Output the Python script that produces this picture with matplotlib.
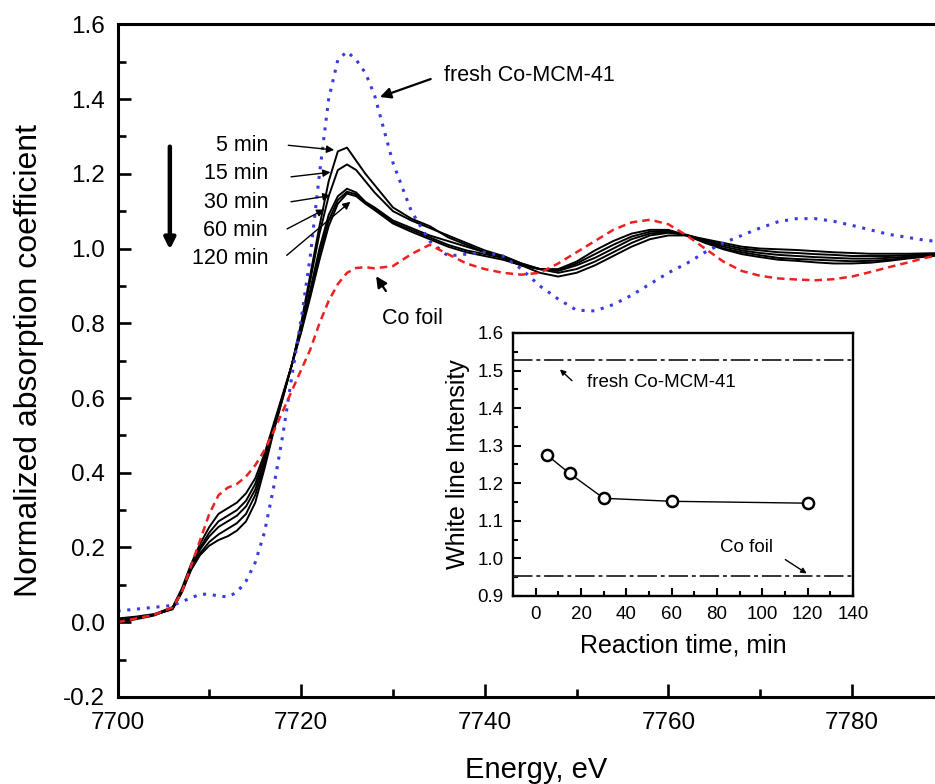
import numpy as np
import matplotlib
matplotlib.use("Agg")
import matplotlib.pyplot as plt
from matplotlib.ticker import MultipleLocator

plt.rcParams['font.family'] = ['Liberation Sans', 'DejaVu Sans']

# energy grid (eV) shared by all spectra
energy = [7700, 7702, 7704, 7706, 7707, 7708, 7709, 7710, 7711, 7712, 7713, 7714,
          7715, 7716, 7717, 7718, 7719, 7720, 7721, 7722, 7723, 7724, 7725, 7726,
          7727, 7728, 7730, 7732, 7734, 7736, 7738, 7740, 7742, 7744, 7746, 7748,
          7750, 7752, 7754, 7756, 7758, 7760, 7762, 7764, 7766, 7768, 7770, 7772,
          7774, 7776, 7778, 7780, 7782, 7784, 7786, 7788, 7790]

fresh = [0.03, 0.035, 0.04, 0.045, 0.055, 0.065, 0.075, 0.075, 0.07, 0.068, 0.08, 0.11,
         0.16, 0.24, 0.36, 0.50, 0.66, 0.81, 0.98, 1.20, 1.40, 1.505, 1.527, 1.505,
         1.47, 1.41, 1.23, 1.10, 1.02, 0.98, 0.985, 0.99, 0.98, 0.945, 0.90, 0.865,
         0.835, 0.833, 0.85, 0.875, 0.905, 0.935, 0.96, 0.99, 1.015, 1.035, 1.055, 1.072,
         1.08, 1.08, 1.073, 1.062, 1.05, 1.038, 1.03, 1.022, 1.018]

co_foil = [0.0, 0.01, 0.02, 0.04, 0.08, 0.15, 0.22, 0.29, 0.34, 0.36, 0.37, 0.39,
           0.42, 0.46, 0.51, 0.565, 0.62, 0.675, 0.73, 0.80, 0.86, 0.905, 0.935, 0.948,
           0.95, 0.947, 0.953, 0.985, 1.01, 0.985, 0.96, 0.945, 0.935, 0.93, 0.935, 0.96,
           0.99, 1.02, 1.05, 1.07, 1.077, 1.065, 1.035, 1.0, 0.965, 0.94, 0.927, 0.92,
           0.917, 0.915, 0.918, 0.925, 0.937, 0.95, 0.962, 0.975, 0.985]

t5 = [0.0, 0.01, 0.02, 0.035, 0.08, 0.14, 0.18, 0.205, 0.22, 0.23, 0.245, 0.27,
      0.32, 0.41, 0.51, 0.60, 0.69, 0.80, 0.93, 1.06, 1.18, 1.26, 1.27, 1.235,
      1.20, 1.17, 1.11, 1.08, 1.06, 1.03, 1.01, 0.99, 0.975, 0.955, 0.935, 0.925,
      0.935, 0.955, 0.98, 1.005, 1.025, 1.035, 1.035, 1.025, 1.015, 1.005, 1.0, 0.998,
      0.996, 0.993, 0.99, 0.988, 0.986, 0.986, 0.986, 0.987, 0.988]
t15 = [0.005, 0.012, 0.02, 0.035, 0.08, 0.14, 0.185, 0.215, 0.235, 0.25, 0.265, 0.29,
       0.34, 0.42, 0.515, 0.60, 0.69, 0.795, 0.915, 1.04, 1.14, 1.21, 1.225, 1.21,
       1.18, 1.15, 1.10, 1.075, 1.055, 1.035, 1.015, 0.995, 0.98, 0.96, 0.945, 0.935,
       0.945, 0.965, 0.99, 1.015, 1.035, 1.042, 1.037, 1.022, 1.01, 1.0, 0.995, 0.99,
       0.988, 0.985, 0.983, 0.98, 0.98, 0.98, 0.982, 0.984, 0.986]
t30 = [0.01, 0.015, 0.022, 0.04, 0.085, 0.145, 0.195, 0.23, 0.255, 0.27, 0.285, 0.31,
       0.355, 0.43, 0.52, 0.605, 0.69, 0.785, 0.89, 1.0, 1.09, 1.14, 1.16, 1.15,
       1.125, 1.11, 1.075, 1.055, 1.035, 1.02, 1.005, 0.99, 0.98, 0.96, 0.945, 0.94,
       0.955, 0.975, 1.0, 1.025, 1.04, 1.045, 1.035, 1.02, 1.005, 0.995, 0.988, 0.983,
       0.98, 0.977, 0.975, 0.973, 0.973, 0.975, 0.978, 0.982, 0.985]
t60 = [0.0, 0.008, 0.018, 0.038, 0.085, 0.15, 0.20, 0.24, 0.27, 0.285, 0.30, 0.325,
       0.37, 0.44, 0.525, 0.605, 0.69, 0.78, 0.88, 0.985, 1.075, 1.13, 1.152, 1.145,
       1.122, 1.107, 1.07, 1.05, 1.03, 1.01, 0.995, 0.985, 0.975, 0.955, 0.945, 0.942,
       0.96, 0.985, 1.01, 1.032, 1.045, 1.048, 1.035, 1.017, 1.0, 0.99, 0.982, 0.975,
       0.972, 0.97, 0.968, 0.966, 0.967, 0.97, 0.975, 0.98, 0.984]
t120 = [0.005, 0.012, 0.02, 0.04, 0.09, 0.155, 0.21, 0.255, 0.29, 0.305, 0.32, 0.345,
        0.385, 0.45, 0.53, 0.61, 0.69, 0.775, 0.87, 0.97, 1.06, 1.12, 1.147, 1.14,
        1.12, 1.103, 1.067, 1.045, 1.025, 1.005, 0.99, 0.98, 0.97, 0.955, 0.945, 0.945,
        0.965, 0.995, 1.02, 1.04, 1.05, 1.05, 1.035, 1.015, 0.998, 0.985, 0.977, 0.97,
        0.967, 0.963, 0.96, 0.96, 0.962, 0.967, 0.973, 0.978, 0.983]

time_labels = ['5 min', '15 min', '30 min', '60 min', '120 min']
xticks_main = [7700, 7720, 7740, 7760, 7780]

# inset: white line intensity vs reaction time
react_time = [5, 15, 30, 60, 120]
white_line = [1.275, 1.226, 1.160, 1.152, 1.147]
wl_fresh = 1.527
wl_foil = 0.952

fig = plt.figure(figsize=(9.35, 7.84), dpi=100)
# the original figure is cropped on the right, so the axes run past the edge
ax = fig.add_axes([0.1257, 0.1110, 0.9818, 0.858])

for s in [t5, t15, t30, t60, t120]:
    ax.plot(energy, s, color='black', lw=1.4)
ax.plot(energy, fresh, color='#3a3ae0', ls=(0, (1, 2.2)), lw=2.2)
ax.plot(energy, co_foil, color='#ee2020', ls=(0, (3, 2)), lw=1.8)

ax.set_xlim(7700, 7800)
ax.set_ylim(-0.2, 1.6)
ax.set_xticks(xticks_main)
ax.set_xticks(np.arange(7710, 7800, 20), minor=True)
ax.yaxis.set_major_locator(MultipleLocator(0.2))
ax.yaxis.set_minor_locator(MultipleLocator(0.1))
ax.yaxis.set_major_formatter(plt.FuncFormatter(lambda v, p: f"{v:.1f}"))
ax.tick_params(which='both', direction='in', top=False, right=False, labelsize=17.5)
ax.tick_params(which='major', length=9.5, width=1.9, pad=9)
ax.tick_params(axis='x', which='major', pad=11)
ax.tick_params(which='minor', length=6, width=1.9)
for sp in ax.spines.values():
    sp.set_linewidth(2.2)
ax.set_xlabel('Energy, eV', fontsize=21, labelpad=16)
ax.xaxis.label.set_x(0.456)
ax.set_ylabel('Normalized absorption coefficient', fontsize=23, labelpad=14)

# labels for each time with arrows
lab_y = [1.277, 1.202, 1.124, 1.049, 0.974]
arr_start = [(7718.3, 1.277), (7718.6, 1.191), (7718.6, 1.124), (7718.2, 1.049), (7718.2, 0.977)]
arr_end = [(7723.9, 1.263), (7723.5, 1.205), (7723.5, 1.143), (7722.8, 1.108), (7725.6, 1.13)]
for lab, y, a0, a1 in zip(time_labels, lab_y, arr_start, arr_end):
    ax.text(7716.4, y, lab, ha='right', va='center', fontsize=15.5)
    ax.annotate('', xy=a1, xytext=a0,
                arrowprops=dict(arrowstyle='-|>', lw=1.0, color='black', mutation_scale=11))

ax.annotate('', xy=(7705.7, 0.99), xytext=(7705.7, 1.28),
            arrowprops=dict(arrowstyle='-|>', lw=3.2, color='black', mutation_scale=16))

ax.text(7735.6, 1.464, 'fresh Co-MCM-41', ha='left', va='center', fontsize=15.5)
ax.annotate('', xy=(7728.3, 1.403), xytext=(7734.4, 1.456),
            arrowprops=dict(arrowstyle='-|>', lw=1.6, color='black', mutation_scale=16))
ax.text(7728.8, 0.813, 'Co foil', ha='left', va='center', fontsize=15.5)
ax.annotate('', xy=(7728.0, 0.932), xytext=(7729.4, 0.88),
            arrowprops=dict(arrowstyle='-|>', lw=1.6, color='black', mutation_scale=16))

# inset
ax2 = fig.add_axes([0.5487, 0.2398, 0.3636, 0.3355])
ax2.plot(react_time, white_line, color='black', lw=1.0, marker='o', ms=8,
         mfc='white', mec='black', mew=1.8)
ax2.axhline(wl_fresh, color='0.2', ls=(0, (10, 2, 2, 2)), lw=1.4)
ax2.axhline(wl_foil, color='0.2', ls=(0, (10, 2, 2, 2)), lw=1.4)
ax2.set_xlim(-10, 140)
ax2.set_ylim(0.9, 1.6)
ax2.xaxis.set_major_locator(MultipleLocator(20))
ax2.xaxis.set_minor_locator(MultipleLocator(10))
ax2.yaxis.set_major_locator(MultipleLocator(0.1))
ax2.yaxis.set_minor_locator(MultipleLocator(0.05))
ax2.tick_params(which='both', direction='in', top=False, right=False, labelsize=13.5)
ax2.tick_params(which='major', length=6, width=1.5, pad=7)
ax2.tick_params(which='minor', length=3.5, width=1.5)
for sp in ax2.spines.values():
    sp.set_linewidth(1.7)
ax2.set_xlabel('Reaction time, min', fontsize=18, labelpad=8)
ax2.set_ylabel('White line Intensity', fontsize=18, labelpad=5)
ax2.text(22.6, 1.467, 'fresh Co-MCM-41', ha='left', va='center', fontsize=13.5)
ax2.annotate('', xy=(9.8, 1.508), xytext=(16.9, 1.468),
             arrowprops=dict(arrowstyle='-|>', lw=1.0, color='black', mutation_scale=8))
ax2.text(92.9, 1.028, 'Co foil', ha='center', va='center', fontsize=13.5)
ax2.annotate('', xy=(120.6, 0.956), xytext=(109.1, 1.001),
             arrowprops=dict(arrowstyle='-|>', lw=1.0, color='black', mutation_scale=8))

fig.savefig('out.png', dpi=100)
